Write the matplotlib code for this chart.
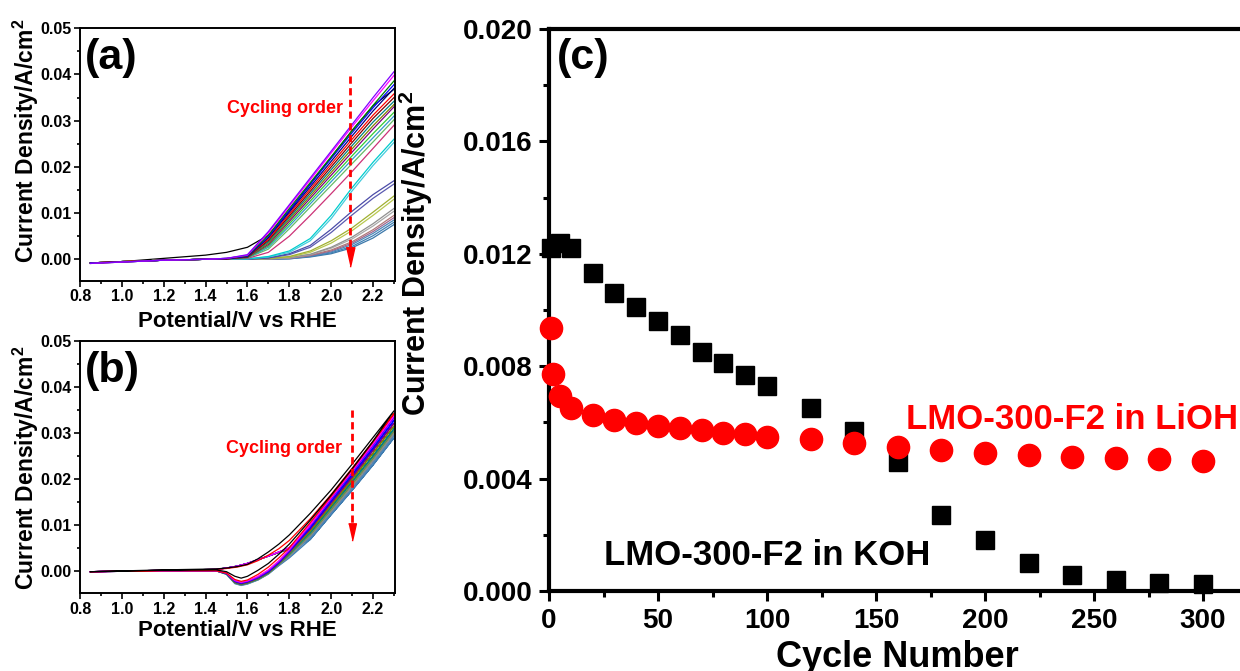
import matplotlib
matplotlib.use('Agg')
import matplotlib.pyplot as plt
from matplotlib.ticker import MultipleLocator, FormatStrFormatter

plt.rcParams['font.family'] = ['Liberation Sans', 'DejaVu Sans']
plt.rcParams['font.weight'] = 'bold'
plt.rcParams['mathtext.fontset'] = 'custom'
plt.rcParams['mathtext.rm'] = 'Liberation Sans:bold'
plt.rcParams['mathtext.it'] = 'Liberation Sans:bold'
plt.rcParams['mathtext.bf'] = 'Liberation Sans:bold'

# ---------------- Panel (a): LSV curves ----------------
VA = [0.85, 1.0, 1.2, 1.4, 1.5, 1.6, 1.7, 1.8, 1.9, 2.0, 2.1, 2.2, 2.3]
A01 = [-0.0008, -0.0005, 0.0002, 0.0009, 0.0015, 0.0026, 0.0052, 0.0105, 0.0163, 0.0221, 0.0279, 0.0332, 0.0368]
A02 = [-0.0009, -0.0006, -0.0002, 0.0000, 0.0002, 0.0010, 0.0060, 0.0118, 0.0176, 0.0234, 0.0292, 0.0350, 0.0406]
A03 = [-0.0009, -0.0006, -0.0002, 0.0000, 0.0002, 0.0009, 0.0057, 0.0115, 0.0172, 0.0230, 0.0287, 0.0343, 0.0398]
A04 = [-0.0009, -0.0006, -0.0002, 0.0000, 0.0002, 0.0008, 0.0052, 0.0110, 0.0166, 0.0222, 0.0278, 0.0333, 0.0386]
A05 = [-0.0008, -0.0006, -0.0002, 0.0000, 0.0002, 0.0007, 0.0050, 0.0106, 0.0162, 0.0218, 0.0274, 0.0328, 0.0378]
A06 = [-0.0008, -0.0006, -0.0002, 0.0000, 0.0001, 0.0006, 0.0047, 0.0102, 0.0157, 0.0212, 0.0267, 0.0321, 0.0370]
A07 = [-0.0008, -0.0005, -0.0002, 0.0000, 0.0001, 0.0006, 0.0044, 0.0098, 0.0152, 0.0206, 0.0260, 0.0312, 0.0358]
A08 = [-0.0008, -0.0005, -0.0002, 0.0000, 0.0001, 0.0005, 0.0041, 0.0094, 0.0147, 0.0200, 0.0253, 0.0305, 0.0350]
A09 = [-0.0008, -0.0005, -0.0002, 0.0000, 0.0001, 0.0005, 0.0038, 0.0090, 0.0142, 0.0194, 0.0246, 0.0297, 0.0342]
A10 = [-0.0008, -0.0005, -0.0002, 0.0000, 0.0001, 0.0004, 0.0035, 0.0086, 0.0137, 0.0188, 0.0239, 0.0289, 0.0335]
A11 = [-0.0008, -0.0005, -0.0002, 0.0000, 0.0001, 0.0004, 0.0032, 0.0082, 0.0132, 0.0182, 0.0232, 0.0282, 0.0330]
A12 = [-0.0008, -0.0005, -0.0002, 0.0000, 0.0001, 0.0004, 0.0029, 0.0077, 0.0126, 0.0175, 0.0224, 0.0272, 0.0318]
A13 = [-0.0008, -0.0005, -0.0002, 0.0000, 0.0001, 0.0003, 0.0026, 0.0072, 0.0120, 0.0168, 0.0216, 0.0263, 0.0310]
A14 = [-0.0008, -0.0005, -0.0002, 0.0000, 0.0001, 0.0003, 0.0022, 0.0066, 0.0113, 0.0160, 0.0207, 0.0254, 0.0302]
A15 = [-0.0008, -0.0005, -0.0002, 0.0000, 0.0001, 0.0002, 0.0015, 0.0050, 0.0095, 0.0142, 0.0190, 0.0240, 0.0290]
A16 = [-0.0008, -0.0005, -0.0002, 0.0000, 0.0000, 0.0001, 0.0006, 0.0018, 0.0045, 0.0095, 0.0155, 0.0210, 0.0260]
A17 = [-0.0008, -0.0005, -0.0002, 0.0000, 0.0000, 0.0001, 0.0005, 0.0015, 0.0040, 0.0088, 0.0148, 0.0203, 0.0253]
A18 = [-0.0008, -0.0005, -0.0002, 0.0000, 0.0000, 0.0000, 0.0003, 0.0012, 0.0030, 0.0065, 0.0104, 0.0140, 0.0170]
A19 = [-0.0008, -0.0005, -0.0002, 0.0000, 0.0000, 0.0000, 0.0003, 0.0010, 0.0026, 0.0058, 0.0096, 0.0132, 0.0163]
A20 = [-0.0008, -0.0005, -0.0002, 0.0000, 0.0000, 0.0000, 0.0002, 0.0006, 0.0018, 0.0040, 0.0068, 0.0102, 0.0137]
A21 = [-0.0008, -0.0005, -0.0002, 0.0000, 0.0000, 0.0000, 0.0002, 0.0005, 0.0015, 0.0035, 0.0062, 0.0095, 0.0130]
A22 = [-0.0008, -0.0005, -0.0002, 0.0000, 0.0000, 0.0000, 0.0001, 0.0004, 0.0011, 0.0026, 0.0048, 0.0077, 0.0110]
A23 = [-0.0008, -0.0005, -0.0002, 0.0000, 0.0000, 0.0000, 0.0001, 0.0003, 0.0010, 0.0024, 0.0044, 0.0072, 0.0104]
A24 = [-0.0008, -0.0005, -0.0002, 0.0000, 0.0000, 0.0000, 0.0001, 0.0003, 0.0009, 0.0020, 0.0038, 0.0064, 0.0095]
A25 = [-0.0008, -0.0005, -0.0002, 0.0000, 0.0000, 0.0000, 0.0001, 0.0002, 0.0008, 0.0018, 0.0035, 0.0060, 0.0090]
A26 = [-0.0008, -0.0005, -0.0002, 0.0000, 0.0000, 0.0000, 0.0001, 0.0002, 0.0007, 0.0016, 0.0032, 0.0056, 0.0085]
A27 = [-0.0008, -0.0005, -0.0002, 0.0000, 0.0000, 0.0000, 0.0000, 0.0001, 0.0006, 0.0014, 0.0028, 0.0051, 0.0080]
A28 = [-0.0008, -0.0005, -0.0002, 0.0000, 0.0000, 0.0000, 0.0000, 0.0001, 0.0005, 0.0012, 0.0025, 0.0046, 0.0075]
A_CURVES = [A01, A02, A03, A04, A05, A06, A07, A08, A09, A10, A11, A12, A13, A14,
            A15, A16, A17, A18, A19, A20, A21, A22, A23, A24, A25, A26, A27, A28]
A_COLORS = ['#000000', '#8000FF', '#FF00FF', '#008000', '#0000FF', '#000080', '#FF0000',
            '#800000', '#008080', '#808000', '#800080', '#33CC33', '#3399CC', '#66BB66',
            '#CC3377', '#00CCCC', '#44CCDD', '#4B4BA8', '#5A5AB0', '#A0B030', '#B8C850',
            '#909090', '#A8A8A8', '#B07878', '#A06890', '#4A88B8', '#3F80B4', '#3C78AA']

# ---------------- Panel (b): CV loops ----------------
VB_FWD = [0.85, 1.2, 1.45, 1.5, 1.55, 1.6, 1.65, 1.7, 1.75, 1.8, 1.9, 2.0, 2.1, 2.2, 2.3]
VB_REV = [2.3, 2.2, 2.1, 2.0, 1.9, 1.8, 1.75, 1.7, 1.65, 1.6, 1.57, 1.54, 1.5, 1.45, 1.2, 0.85]
B01_F = [-0.0002, 0.0002, 0.0004, 0.0006, 0.0009, 0.0014, 0.0026, 0.0041, 0.0058, 0.0078, 0.0125, 0.0176, 0.0232, 0.0290, 0.0348]
B01_R = [0.0348, 0.0282, 0.0222, 0.0165, 0.0110, 0.0058, 0.0036, 0.0016, 0.0001, -0.0012, -0.0016, -0.0012, -0.0002, 0.0002, 0.0001, -0.0002]
B02_F = [-0.0002, 0.0001, 0.0003, 0.0005, 0.0008, 0.0013, 0.0022, 0.0034, 0.0048, 0.0066, 0.0113, 0.0166, 0.0223, 0.0282, 0.0342]
B02_R = [0.0342, 0.0280, 0.0220, 0.0162, 0.0105, 0.0050, 0.0028, 0.0008, -0.0008, -0.0020, -0.0023, -0.0019, -0.0005, 0.0000, 0.0000, -0.0002]
B03_F = [-0.0002, 0.0001, 0.0003, 0.0006, 0.0010, 0.0016, 0.0024, 0.0032, 0.0041, 0.0050, 0.0101, 0.0160, 0.0218, 0.0277, 0.0338]
B03_R = [0.0338, 0.0277, 0.0218, 0.0160, 0.0101, 0.0046, 0.0022, 0.0002, -0.0012, -0.0022, -0.0025, -0.0021, -0.0005, 0.0000, 0.0000, -0.0002]
B04_F = [-0.0002, 0.0001, 0.0003, 0.0006, 0.0010, 0.0016, 0.0024, 0.0032, 0.0041, 0.0050, 0.0098, 0.0156, 0.0214, 0.0272, 0.0333]
B04_R = [0.0333, 0.0272, 0.0214, 0.0156, 0.0098, 0.0044, 0.0020, 0.0000, -0.0014, -0.0023, -0.0026, -0.0022, -0.0005, 0.0000, 0.0000, -0.0002]
B05_F = [-0.0002, 0.0001, 0.0003, 0.0006, 0.0010, 0.0016, 0.0024, 0.0032, 0.0041, 0.0050, 0.0094, 0.0152, 0.0209, 0.0267, 0.0327]
B05_R = [0.0327, 0.0267, 0.0209, 0.0152, 0.0094, 0.0042, 0.0018, -0.0002, -0.0015, -0.0024, -0.0027, -0.0023, -0.0006, 0.0000, 0.0000, -0.0002]
B06_F = [-0.0002, 0.0001, 0.0003, 0.0006, 0.0010, 0.0016, 0.0024, 0.0032, 0.0040, 0.0049, 0.0091, 0.0148, 0.0204, 0.0262, 0.0321]
B06_R = [0.0321, 0.0262, 0.0204, 0.0148, 0.0091, 0.0040, 0.0017, -0.0003, -0.0016, -0.0025, -0.0028, -0.0024, -0.0006, 0.0000, 0.0000, -0.0002]
B07_F = [-0.0002, 0.0001, 0.0003, 0.0006, 0.0010, 0.0016, 0.0024, 0.0032, 0.0040, 0.0048, 0.0087, 0.0143, 0.0199, 0.0256, 0.0315]
B07_R = [0.0315, 0.0256, 0.0199, 0.0143, 0.0087, 0.0038, 0.0016, -0.0004, -0.0017, -0.0026, -0.0029, -0.0025, -0.0006, 0.0000, 0.0000, -0.0002]
B08_F = [-0.0002, 0.0001, 0.0003, 0.0006, 0.0010, 0.0016, 0.0024, 0.0032, 0.0040, 0.0048, 0.0083, 0.0139, 0.0194, 0.0250, 0.0309]
B08_R = [0.0309, 0.0250, 0.0194, 0.0139, 0.0083, 0.0036, 0.0015, -0.0005, -0.0018, -0.0027, -0.0030, -0.0026, -0.0007, 0.0000, 0.0000, -0.0002]
B09_F = [-0.0002, 0.0001, 0.0003, 0.0006, 0.0010, 0.0016, 0.0024, 0.0032, 0.0040, 0.0047, 0.0079, 0.0134, 0.0189, 0.0245, 0.0304]
B09_R = [0.0304, 0.0245, 0.0189, 0.0134, 0.0079, 0.0034, 0.0014, -0.0006, -0.0019, -0.0027, -0.0030, -0.0026, -0.0007, 0.0000, 0.0000, -0.0002]
B10_F = [-0.0002, 0.0001, 0.0003, 0.0006, 0.0010, 0.0016, 0.0024, 0.0032, 0.0040, 0.0047, 0.0076, 0.0130, 0.0184, 0.0240, 0.0299]
B10_R = [0.0299, 0.0240, 0.0184, 0.0130, 0.0076, 0.0032, 0.0013, -0.0006, -0.0019, -0.0028, -0.0031, -0.0027, -0.0007, 0.0000, 0.0000, -0.0002]
B11_F = [-0.0002, 0.0001, 0.0003, 0.0006, 0.0010, 0.0016, 0.0024, 0.0032, 0.0040, 0.0046, 0.0072, 0.0126, 0.0179, 0.0235, 0.0294]
B11_R = [0.0294, 0.0235, 0.0179, 0.0126, 0.0072, 0.0030, 0.0012, -0.0007, -0.0020, -0.0028, -0.0031, -0.0027, -0.0007, 0.0000, 0.0000, -0.0002]
B12_F = [-0.0002, 0.0001, 0.0003, 0.0006, 0.0010, 0.0016, 0.0024, 0.0032, 0.0040, 0.0045, 0.0068, 0.0122, 0.0175, 0.0230, 0.0289]
B12_R = [0.0289, 0.0230, 0.0175, 0.0122, 0.0068, 0.0028, 0.0011, -0.0007, -0.0020, -0.0029, -0.0032, -0.0028, -0.0008, 0.0000, 0.0000, -0.0002]
B_FWD = [B01_F, B02_F, B03_F, B04_F, B05_F, B06_F, B07_F, B08_F, B09_F, B10_F, B11_F, B12_F]
B_REV = [B01_R, B02_R, B03_R, B04_R, B05_R, B06_R, B07_R, B08_R, B09_R, B10_R, B11_R, B12_R]
B_COLORS = ['#000000', '#FF0000', '#FF00FF', '#8000FF', '#0000FF', '#800080',
            '#808000', '#008080', '#6B8E4E', '#8A8A8A', '#4F86B8', '#3E7CB1']

# ---------------- Panel (c): stability ----------------
KOH_X = [1, 5, 10, 20, 30, 40, 50, 60, 70, 80, 90, 100, 120, 140, 160, 180, 200, 220, 240, 260, 280, 300]
KOH_Y = [0.0122, 0.0124, 0.0122, 0.0113, 0.0106, 0.0101, 0.0096, 0.0091, 0.0085, 0.0081, 0.0077,
         0.0073, 0.0065, 0.0057, 0.0046, 0.0027, 0.0018, 0.0010, 0.00057, 0.00039, 0.00030, 0.00025]
LIOH_X = [1, 2, 5, 10, 20, 30, 40, 50, 60, 70, 80, 90, 100, 120, 140, 160, 180, 200, 220, 240, 260, 280, 300]
LIOH_Y = [0.00935, 0.00772, 0.00694, 0.00650, 0.00626, 0.00608, 0.00597, 0.00587, 0.00579, 0.00573,
          0.00561, 0.00558, 0.00549, 0.00540, 0.00526, 0.00511, 0.00502, 0.00490, 0.00484, 0.00478,
          0.00472, 0.00469, 0.00463]

W, H = 1240, 671
fig = plt.figure(figsize=(W / 100, H / 100), dpi=100)


def px_axes(l, t, r, b):
    return fig.add_axes([l / W, 1 - b / H, (r - l) / W, (b - t) / H])


def style_small(ax):
    for s in ax.spines.values():
        s.set_linewidth(1.4)
    ax.tick_params(which='both', direction='out', top=False, right=False, width=1.2,
                   labelsize=11.5, pad=2)
    ax.tick_params(which='major', length=4)
    ax.tick_params(which='minor', length=2.2)
    ax.set_xlim(0.8, 2.305)
    ax.xaxis.set_major_locator(MultipleLocator(0.2))
    ax.xaxis.set_minor_locator(MultipleLocator(0.1))
    ax.yaxis.set_major_locator(MultipleLocator(0.01))
    ax.yaxis.set_minor_locator(MultipleLocator(0.005))
    ax.xaxis.set_major_formatter(FormatStrFormatter('%.1f'))
    ax.yaxis.set_major_formatter(FormatStrFormatter('%.2f'))


tri = [(-0.45, 1), (0.45, 1), (0, -1)]

# Panel (a)
axA = px_axes(80, 28.3, 395, 281)
style_small(axA)
axA.set_ylim(-0.0047, 0.05)
axA.plot(VA, A_CURVES[0], color=A_COLORS[0], lw=0.9)
for vals, col in reversed(list(zip(A_CURVES[1:], A_COLORS[1:]))):
    axA.plot(VA, vals, color=col, lw=0.9)
axA.plot([2.09, 2.09], [0.0396, 0.0025], color='#FF0000', lw=2.0, ls=(0, (2.6, 1.6)))
axA.plot([2.09], [0.0004], marker=tri, markersize=14, color='#FF0000', ls='none')
axA.text(2.057, 0.0326, 'Cycling order', color='#FF0000', fontsize=13,
         fontweight='bold', ha='right', va='center')

# Panel (b)
axB = px_axes(80, 341, 395, 593.3)
style_small(axB)
axB.set_ylim(-0.0049, 0.05)
for f, r, col in reversed(list(zip(B_FWD, B_REV, B_COLORS))):
    axB.plot(VB_FWD + VB_REV, f + r, color=col, lw=0.9)
axB.plot([2.098, 2.098], [0.0350, 0.0105], color='#FF0000', lw=2.0, ls=(0, (2.6, 1.6)))
axB.plot([2.098], [0.0085], marker=tri, markersize=12.5, color='#FF0000', ls='none')
axB.text(2.05, 0.0265, 'Cycling order', color='#FF0000', fontsize=13,
         fontweight='bold', ha='right', va='center')

# Panel (c)
axC = px_axes(549, 29, 1246.6, 591)
for s in axC.spines.values():
    s.set_linewidth(3.0)
axC.set_xlim(0, 320)
axC.set_ylim(0, 0.020)
axC.xaxis.set_major_locator(MultipleLocator(50))
axC.xaxis.set_minor_locator(MultipleLocator(25))
axC.yaxis.set_major_locator(MultipleLocator(0.004))
axC.yaxis.set_minor_locator(MultipleLocator(0.002))
axC.xaxis.set_major_formatter(FormatStrFormatter('%d'))
axC.yaxis.set_major_formatter(FormatStrFormatter('%.3f'))
axC.tick_params(which='both', direction='out', top=False, right=False, width=2.2,
                labelsize=20, pad=5)
axC.tick_params(which='major', length=7)
axC.tick_params(which='minor', length=4)
axC.plot(KOH_X, KOH_Y, ls='none', marker='s', markersize=13.5, color='black', clip_on=False, zorder=3)
axC.plot(LIOH_X, LIOH_Y, ls='none', marker='o', markersize=16, color='#FF0000', clip_on=False, zorder=4)
axC.text(163.8, 0.00609, 'LMO-300-F2 in LiOH', color='#FF0000', fontsize=25,
         fontweight='bold', ha='left', va='center')
axC.text(25.2, 0.00125, 'LMO-300-F2 in KOH', color='black', fontsize=25,
         fontweight='bold', ha='left', va='center')

# labels
ylab = 'Current Density/A/cm$^{2}$'
fig.text(26 / W, 1 - 141 / H, ylab, rotation=90, fontsize=16.5, fontweight='bold', ha='center', va='center')
fig.text(26 / W, 1 - 468 / H, ylab, rotation=90, fontsize=16.5, fontweight='bold', ha='center', va='center')
fig.text(237.5 / W, 1 - 327 / H, 'Potential/V vs RHE', fontsize=16, fontweight='bold', ha='center', va='baseline')
fig.text(237.5 / W, 1 - 636 / H, 'Potential/V vs RHE', fontsize=16, fontweight='bold', ha='center', va='baseline')
fig.text(416 / W, 1 - 253 / H, ylab, rotation=90, fontsize=22, fontweight='bold', ha='center', va='center')
fig.text(897 / W, 1 - 667 / H, 'Cycle Number', fontsize=26, fontweight='bold', ha='center', va='baseline')

fig.text(85 / W, 1 - 58 / H, '(a)', fontsize=31, fontweight='bold', ha='left', va='center')
fig.text(85 / W, 1 - 371 / H, '(b)', fontsize=31, fontweight='bold', ha='left', va='center')
fig.text(557 / W, 1 - 58 / H, '(c)', fontsize=31, fontweight='bold', ha='left', va='center')

fig.savefig('out.png', dpi=100)
